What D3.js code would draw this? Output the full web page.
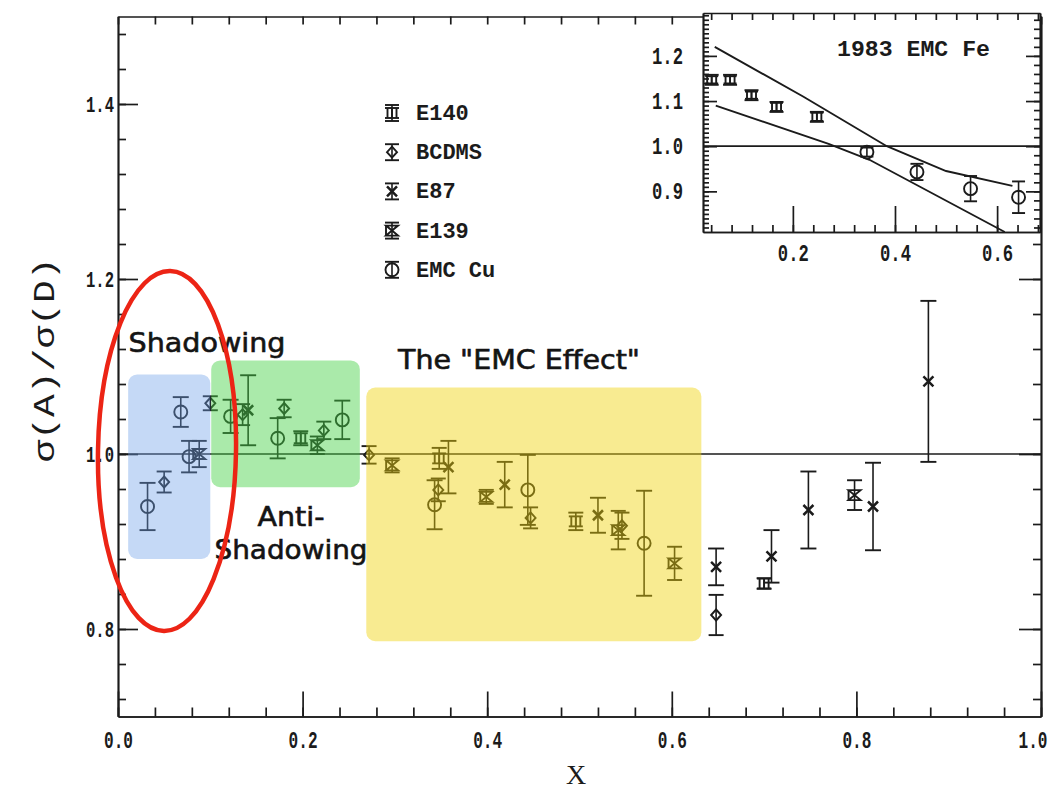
<!DOCTYPE html>
<html><head><meta charset="utf-8">
<script src="https://cdn.jsdelivr.net/npm/d3@7"></script>
<style>html,body{margin:0;background:#fff}svg{display:block}</style>
</head><body><svg id="c" width="1058" height="794"></svg>
<script>
// Each point: [x, σ(A)/σ(D), statistical error]
const e140  = [[0.198,1.018,0.008],[0.348,0.995,0.012],[0.496,0.923,0.010],[0.700,0.852,0.006]];
const bcdms = [[0.050,0.968,0.012],[0.100,1.058,0.008],[0.135,1.045,0.012],[0.180,1.052,0.010],[0.223,1.027,0.010],[0.272,0.999,0.010],[0.347,0.959,0.013],[0.447,0.927,0.012],[0.546,0.918,0.015],[0.648,0.816,0.023]];
const e87   = [[0.141,1.050,0.040],[0.358,0.985,0.030],[0.419,0.965,0.026],[0.520,0.930,0.020],[0.648,0.871,0.021],[0.708,0.883,0.030],[0.748,0.936,0.044],[0.818,0.940,0.050],[0.878,1.083,0.092]];
const e139  = [[0.088,1.000,0.015],[0.216,1.010,0.010],[0.297,0.987,0.008],[0.399,0.951,0.008],[0.542,0.913,0.022],[0.603,0.875,0.019],[0.798,0.953,0.017]];
const emcCu = [[0.032,0.940,0.027],[0.068,1.048,0.017],[0.077,0.997,0.018],[0.122,1.043,0.019],[0.173,1.018,0.023],[0.243,1.039,0.022],[0.343,0.942,0.028],[0.444,0.959,0.040],[0.570,0.898,0.060]];

// Inset: 1983 EMC iron data and the band of model curves
const emcFeLowX  = [[0.041,1.147,0.008],[0.077,1.147,0.008],[0.119,1.113,0.008],[0.168,1.087,0.009],[0.247,1.065,0.009]];
const emcFeHighX = [[0.345,0.987,0.010],[0.443,0.943,0.018],[0.548,0.906,0.028],[0.642,0.887,0.035]];
const bandUpper  = [[0.047,1.220],[0.220,1.110],[0.384,1.000],[0.500,0.945],[0.630,0.912]];
const bandLower  = [[0.049,1.090],[0.270,1.005],[0.350,0.970],[0.615,0.810]];

const legendNames  = ["E140","BCDMS","E87","E139","EMC Cu"];
const legendKinds  = ["e140","bcdms","e87","e139","emc"];
const xTickLabels  = [0,0.2,0.4,0.6,0.8,1.0];
const yTickLabels  = [0.8,1.0,1.2,1.4];
const insetXLabels = [0.2,0.4,0.6];
const insetYLabels = [0.9,1.0,1.1,1.2];

const svg = d3.select("#c");
const ink = "#1b1b1b";
const mono = "'Liberation Mono', 'DejaVu Sans Mono', monospace";

const x = d3.scaleLinear([0, 1], [118, 1041]);
const y = d3.scaleLinear([0.7, 1.5], [716.5, 16.5]);

const steps = (a, b, s) => d3.range(Math.round((b - a) / s) + 1).map(i => +(a + i * s).toFixed(3));

// ---- frame and ticks of the main panel
function styleAxis(g, fontSize, labelWidth) {
  g.selectAll("path,line").attr("stroke", ink).attr("stroke-width", 1.7);
  const t = g.selectAll("text").attr("fill", ink).attr("font-family", mono).attr("font-weight", "bold").attr("font-size", fontSize);
  if (labelWidth) t.attr("textLength", labelWidth).attr("lengthAdjust", "spacingAndGlyphs");
}
const frame = svg.append("g");
frame.append("g").attr("transform", `translate(0,${y(0.7)})`)
  .call(d3.axisBottom(x).tickValues(steps(0, 1, 0.04)).tickSize(-9).tickSizeOuter(0).tickFormat(""))
  .call(g => styleAxis(g, 21));
frame.append("g").attr("transform", `translate(0,${y(0.7)})`)
  .call(d3.axisBottom(x).tickValues(xTickLabels).tickSize(-25).tickSizeOuter(0).tickPadding(15).tickFormat(d3.format(".1f")))
  .call(g => styleAxis(g, 23, 29))
  // the right-most label sits against the page edge: anchor it at its end
  .call(g => g.selectAll(".tick:last-of-type text").attr("text-anchor", "end").attr("dx", 6));
frame.append("g").attr("transform", `translate(0,${y(1.5)})`)
  .call(d3.axisTop(x).tickValues(steps(0, 1, 0.04)).tickSize(-8).tickSizeOuter(0).tickFormat(""))
  .call(g => styleAxis(g, 21));
frame.append("g").attr("transform", `translate(${x(0)},0)`)
  .call(d3.axisLeft(y).tickValues(steps(0.72, 1.48, 0.04)).tickSize(-8).tickSizeOuter(0).tickFormat(""))
  .call(g => styleAxis(g, 19));
frame.append("g").attr("transform", `translate(${x(0)},0)`)
  .call(d3.axisLeft(y).tickValues(yTickLabels).tickSize(-20).tickSizeOuter(0).tickPadding(4).tickFormat(d3.format(".1f")))
  .call(g => styleAxis(g, 22, 28));
frame.append("g").attr("transform", `translate(${x(1)},0)`)
  .call(d3.axisRight(y).tickValues(steps(0.72, 1.48, 0.04)).tickSize(-8).tickSizeOuter(0).tickFormat(""))
  .call(g => styleAxis(g, 19));
frame.append("g").attr("transform", `translate(${x(1)},0)`)
  .call(d3.axisRight(y).tickValues(yTickLabels).tickSize(-22).tickSizeOuter(0).tickFormat(""))
  .call(g => styleAxis(g, 19));

// unity line
svg.append("line").attr("x1", x(0)).attr("x2", x(1)).attr("y1", y(1)).attr("y2", y(1))
  .attr("stroke", ink).attr("stroke-width", 1.7);

// ---- plotting symbols
function symbol(g, kind, k) {
  const s = k || 1;
  const st = (sel) => sel.attr("stroke", ink).attr("stroke-width", 1.9).attr("fill", "none");
  if (kind === "e140") {
    [-4.5, 0, 4.5].forEach(dx => st(g.append("line").attr("x1", dx * s).attr("x2", dx * s).attr("y1", -5 * s).attr("y2", 5 * s)));
    [-5, 5].forEach(dy => st(g.append("line").attr("x1", -7 * s).attr("x2", 7 * s).attr("y1", dy * s).attr("y2", dy * s)));
  } else if (kind === "bcdms") {
    st(g.append("path").attr("d", `M0,${-5.5 * s}L${5 * s},0L0,${5.5 * s}L${-5 * s},0Z`));
  } else if (kind === "e87") {
    st(g.append("path").attr("d", `M${-5 * s},${-5 * s}L${5 * s},${5 * s}M${5 * s},${-5 * s}L${-5 * s},${5 * s}`)).attr("stroke-width", 2.5);
  } else if (kind === "e139") {
    st(g.append("path").attr("d", `M${-6 * s},${-5 * s}L${6 * s},${-5 * s}L${-6 * s},${5 * s}L${6 * s},${5 * s}Z`));
    st(g.append("line").attr("x1", -6 * s).attr("x2", -6 * s).attr("y1", -5 * s).attr("y2", 5 * s));
  } else if (kind === "emc") {
    st(g.append("circle").attr("r", 6.5 * s));
  }
}

function drawSeries(data, kind, xs, ys, capW) {
  const g = svg.append("g");
  data.forEach(([px, py, err]) => {
    const cx = xs(px), cy = ys(py), t = ys(py + err), b = ys(py - err);
    const p = g.append("g");
    p.append("line").attr("x1", cx).attr("x2", cx).attr("y1", t).attr("y2", b).attr("stroke", ink).attr("stroke-width", 1.6);
    [t, b].forEach(v => p.append("line").attr("x1", cx - capW / 2).attr("x2", cx + capW / 2).attr("y1", v).attr("y2", v)
      .attr("stroke", ink).attr("stroke-width", 1.9));
    symbol(p.append("g").attr("transform", `translate(${cx},${cy})`), kind);
  });
}

drawSeries(e140, "e140", x, y, 15);
drawSeries(bcdms, "bcdms", x, y, 15);
drawSeries(e87, "e87", x, y, 16);
drawSeries(e139, "e139", x, y, 15);
drawSeries(emcCu, "emc", x, y, 16);

// ---- legend
const leg = svg.append("g");
legendNames.forEach((name, i) => {
  const ly = 113 + i * 39.2;
  const sg = leg.append("g").attr("transform", `translate(392,${ly})`);
  [-8, 8].forEach(v => sg.append("line").attr("x1", -7).attr("x2", 7).attr("y1", v).attr("y2", v).attr("stroke", ink).attr("stroke-width", 1.9));
  sg.append("line").attr("y1", -8).attr("y2", 8).attr("stroke", ink).attr("stroke-width", 1.6);
  symbol(sg, legendKinds[i]);
  leg.append("text").attr("x", 416).attr("y", ly + 7).text(name)
    .attr("font-family", mono).attr("font-weight", "bold").attr("font-size", 22).attr("fill", ink);
});

// ---- inset: 1983 EMC Fe
const xi = d3.scaleLinear([0.024, 0.684], [703, 1040]);
const yi = d3.scaleLinear([0.81, 1.295], [232, 13]);
const inset = svg.append("g");
inset.append("rect").attr("x", 703).attr("y", 13).attr("width", 337).attr("height", 219).attr("fill", "#fff");
inset.append("g").attr("transform", `translate(0,${yi(0.81)})`)
  .call(d3.axisBottom(xi).tickValues(steps(0.04, 0.68, 0.04)).tickSize(-7).tickSizeOuter(0).tickFormat(""))
  .call(g => styleAxis(g, 18));
inset.append("g").attr("transform", `translate(0,${yi(0.81)})`)
  .call(d3.axisBottom(xi).tickValues(insetXLabels).tickSize(-26).tickSizeOuter(0).tickPadding(13).tickFormat(d3.format(".1f")))
  .call(g => styleAxis(g, 23, 31));
inset.append("g").attr("transform", `translate(0,${yi(1.295)})`)
  .call(d3.axisTop(xi).tickValues(steps(0.04, 0.68, 0.04)).tickSize(-7).tickSizeOuter(0).tickFormat(""))
  .call(g => styleAxis(g, 18));
inset.append("g").attr("transform", `translate(${xi(0.024)},0)`)
  .call(d3.axisLeft(yi).tickValues(steps(0.82, 1.29, 0.01)).tickSize(-6).tickSizeOuter(0).tickFormat(""))
  .call(g => styleAxis(g, 18));
inset.append("g").attr("transform", `translate(${xi(0.024)},0)`)
  .call(d3.axisLeft(yi).tickValues(insetYLabels).tickSize(-14).tickSizeOuter(0).tickPadding(20).tickFormat(d3.format(".1f")))
  .call(g => styleAxis(g, 23, 31));
inset.append("g").attr("transform", `translate(${xi(0.684)},0)`)
  .call(d3.axisRight(yi).tickValues(steps(0.82, 1.28, 0.02)).tickSize(-6).tickSizeOuter(0).tickFormat(""))
  .call(g => styleAxis(g, 18));
inset.append("g").attr("transform", `translate(${xi(0.684)},0)`)
  .call(d3.axisRight(yi).tickValues([0.9, 1.0, 1.1, 1.2]).tickSize(-14).tickSizeOuter(0).tickFormat(""))
  .call(g => styleAxis(g, 18));
inset.append("line").attr("x1", xi(0.024)).attr("x2", xi(0.684)).attr("y1", yi(1)).attr("y2", yi(1))
  .attr("stroke", ink).attr("stroke-width", 1.7);
const bandLine = d3.line().x(d => xi(d[0])).y(d => yi(d[1]));
[bandUpper, bandLower].forEach(b => inset.append("path").attr("d", bandLine(b))
  .attr("fill", "none").attr("stroke", ink).attr("stroke-width", 1.9));
drawSeries(emcFeLowX, "e140", xi, yi, 13);
drawSeries(emcFeHighX, "emc", xi, yi, 13);
inset.append("text").attr("x", 837).attr("y", 56).text("1983 EMC Fe")
  .attr("font-family", mono).attr("font-weight", "bold").attr("font-size", 22).attr("fill", ink)
  .attr("textLength", 153).attr("lengthAdjust", "spacingAndGlyphs");

// ---- shaded x regions
const regions = [
  {x0: 0.011, x1: 0.100, y0: 0.880, y1: 1.091, fill: "rgb(110,160,232)", op: 0.40},
  {x0: 0.101, x1: 0.262, y0: 0.962, y1: 1.107, fill: "rgb(70,210,70)", op: 0.46},
  {x0: 0.269, x1: 0.632, y0: 0.786, y1: 1.076, fill: "rgb(240,210,10)", op: 0.45}
];
regions.forEach(r => svg.append("rect")
  .attr("x", x(r.x0)).attr("y", y(r.y1)).attr("width", x(r.x1) - x(r.x0)).attr("height", y(r.y0) - y(r.y1))
  .attr("rx", 9).attr("fill", r.fill).attr("fill-opacity", r.op));

// ---- region labels
const sans = "'DejaVu Sans', sans-serif";
const lab = (t, cx, cy, w) => svg.append("text").attr("x", cx).attr("y", cy).text(t)
  .attr("text-anchor", "middle").attr("dominant-baseline", "central")
  .attr("font-family", sans).attr("font-size", 26).attr("fill", "#141414")
  .attr("stroke", "#141414").attr("stroke-width", 0.6)
  .attr("textLength", w).attr("lengthAdjust", "spacingAndGlyphs");
lab("Shadowing", 207, 343, 157);
lab("The \"EMC Effect\"", 519, 360, 242);
lab("Anti-", 291, 517, 67);
lab("Shadowing", 291, 550, 153);

// ---- axis titles
svg.append("text").attr("x", 576).attr("y", 774).text("X")
  .attr("text-anchor", "middle").attr("dominant-baseline", "central")
  .attr("font-family", "'Liberation Serif', serif").attr("font-size", 28).attr("fill", ink);
svg.append("text").attr("transform", "translate(46,360) rotate(-90)").text("σ(A)/σ(D)")
  .attr("text-anchor", "middle").attr("dominant-baseline", "central")
  .attr("font-family", mono).attr("font-size", 30).attr("fill", ink)
  .attr("textLength", 205).attr("lengthAdjust", "spacingAndGlyphs");

// ---- highlight ring around the shadowing region
svg.append("ellipse").attr("cx", 167).attr("cy", 451).attr("rx", 69).attr("ry", 180)
  .attr("transform", "rotate(1,167,451)")
  .attr("fill", "none").attr("stroke", "#ec2415").attr("stroke-width", 4.5);
</script></body></html>
